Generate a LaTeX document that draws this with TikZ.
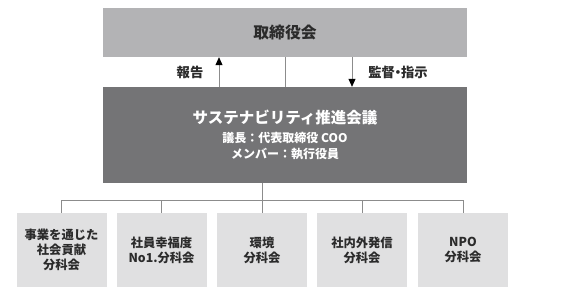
\documentclass[tikz,border=0pt]{standalone}
\usepackage{fontspec}
\setmainfont{Noto Sans CJK JP}
\usetikzlibrary{arrows.meta}

\definecolor{boardgray}{HTML}{B3B3B5}
\definecolor{councilgray}{HTML}{747476}
\definecolor{subgray}{HTML}{E0E0E1}
\definecolor{linegray}{HTML}{8C8C8C}
\definecolor{textdark}{HTML}{2B2B2B}

\tikzset{
    subbox/.style={fill=subgray, text=textdark, align=center, inner sep=0pt,
        minimum width=90pt, minimum height=74pt,
        font=\bfseries\fontsize{12.3}{15}\selectfont},
    conn/.style={draw=linegray, line width=0.8pt},
    arrowconn/.style={conn, -{Triangle[black, length=8pt, width=7pt]}},
    arrowlabel/.style={text=textdark, font=\bfseries\fontsize{13.3}{15}\selectfont}
}

\begin{document}
\begin{tikzpicture}[x=1pt, y=-1pt]

    % 描画範囲
    \useasboundingbox (0,0) rectangle (567,297);

    % パラメータの定義
    \pgfmathsetmacro{\suby}{250}

    % 座標の定義
    \coordinate (bus) at (0,200);
    \coordinate (upx) at (219,0);
    \coordinate (downx) at (352,0);

    % 取締役会
    \node[fill=boardgray, text=textdark, minimum width=364pt, minimum height=49pt,
        inner sep=0pt, font=\bfseries\fontsize{15.8}{16}\selectfont]
        (board) at (285,32.5) {取締役会};

    % サステナビリティ推進会議
    \node[fill=councilgray, text=white, minimum width=364pt, minimum height=96pt,
        inner sep=0pt, align=center, font=\bfseries\fontsize{12}{16}\selectfont]
        (council) at (285,135)
        {{\fontsize{15.5}{16}\selectfont サステナビリティ推進会議}\\[3pt]
         議長：代表取締役 COO\\
         メンバー：執行役員};

    % 分科会
    \node[subbox] (sub1) at (61.5,\suby) {事業を通じた\\社会貢献\\分科会};
    \node[subbox] (sub2) at (161.5,\suby) {社員幸福度\\No1.分科会};
    \node[subbox] (sub3) at (262,\suby) {環境\\分科会};
    \node[subbox] (sub4) at (362,\suby) {社内外発信\\分科会};
    \node[subbox] (sub5) at (463,\suby) {NPO\\分科会};

    % 報告・監督の矢印
    \draw[arrowconn] (council.north -| upx) -- (board.south -| upx);
    \draw[conn] (board.south) -- (council.north);
    \draw[arrowconn] (board.south -| downx) -- (council.north -| downx);
    \node[arrowlabel] (report) at (190,72) {報告};
    \node[arrowlabel] (direct) at (398,72) {監督\kern-3.5pt・\kern-3.5pt 指示};

    % 分科会への線
    \draw[conn] (council.south -| sub3) -- (sub3.north);
    \draw[conn] (sub1.north) -- (sub1.north |- bus) -- (sub5.north |- bus) -- (sub5.north);
    \draw[conn] (sub2.north) -- (sub2.north |- bus);
    \draw[conn] (sub4.north) -- (sub4.north |- bus);

\end{tikzpicture}
\end{document}
